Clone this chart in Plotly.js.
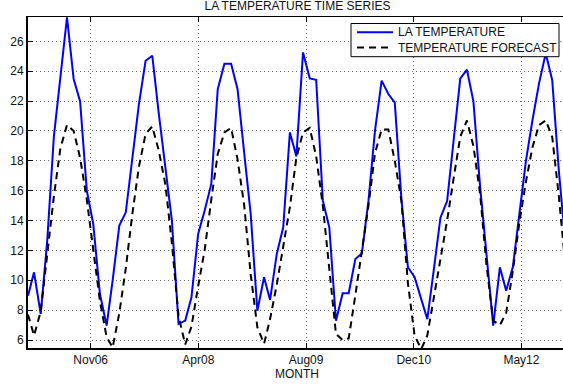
<!DOCTYPE html>
<html>
<head>
<meta charset="utf-8">
<script src="https://cdn.plot.ly/plotly-3.0.1.min.js"></script>
<style>
html,body{margin:0;padding:0;overflow:hidden;background:#fff;width:563px;height:387px;}
#chart{width:566px;height:387px;}
</style>
</head>
<body>
<div id="chart"></div>
<script>
// Monthly observation dates
const months = [
 '2006-02-01','2006-03-01','2006-04-01','2006-05-01','2006-06-01','2006-07-01','2006-08-01','2006-09-01','2006-10-01','2006-11-01','2006-12-01',
 '2007-01-01','2007-02-01','2007-03-01','2007-04-01','2007-05-01','2007-06-01','2007-07-01','2007-08-01','2007-09-01','2007-10-01','2007-11-01','2007-12-01',
 '2008-01-01','2008-02-01','2008-03-01','2008-04-01','2008-05-01','2008-06-01','2008-07-01','2008-08-01','2008-09-01','2008-10-01','2008-11-01','2008-12-01',
 '2009-01-01','2009-02-01','2009-03-01','2009-04-01','2009-05-01','2009-06-01','2009-07-01','2009-08-01','2009-09-01','2009-10-01','2009-11-01','2009-12-01',
 '2010-01-01','2010-02-01','2010-03-01','2010-04-01','2010-05-01','2010-06-01','2010-07-01','2010-08-01','2010-09-01','2010-10-01','2010-11-01','2010-12-01',
 '2011-01-01','2011-02-01','2011-03-01','2011-04-01','2011-05-01','2011-06-01','2011-07-01','2011-08-01','2011-09-01','2011-10-01','2011-11-01','2011-12-01',
 '2012-01-01','2012-02-01','2012-03-01','2012-04-01','2012-05-01','2012-06-01','2012-07-01','2012-08-01','2012-09-01','2012-10-01','2012-11-01','2012-12-01'
];

// LA temperature (observed)
const laTemperature = [
 8.97,10.53,7.74,12.6,19.6,23.5,27.6,23.48,21.98,16.0,13.77,
 9.08,6.96,10.0,13.66,14.55,18.2,21.8,24.7,25.04,21.2,17.5,14.0,
 7.07,7.3,8.86,13.1,14.66,16.45,22.8,24.5,24.5,22.8,18.5,14.44,
 7.96,10.2,8.68,11.76,13.55,19.9,18.3,25.26,23.52,23.43,15.33,13.54,
 7.29,9.13,9.13,11.42,11.8,15.33,20.0,23.37,22.47,21.9,15.4,10.87,
 10.2,8.8,7.4,10.8,14.19,15.3,19.3,23.5,24.1,22.0,16.3,11.8,
 6.96,10.87,9.3,10.87,14.5,18.0,20.7,23.2,25.2,23.4,17.3,12.5
];

// Temperature forecast
const temperatureForecast = [
 7.7,6.3,7.9,11.8,15.6,18.8,20.4,20.0,18.2,15.4,12.0,
 8.6,6.2,5.5,7.8,10.8,14.5,17.6,19.8,20.3,18.7,16.4,12.5,
 7.6,5.7,6.9,9.6,12.0,15.4,18.45,19.9,20.2,18.1,15.0,10.4,
 6.85,5.75,7.4,9.7,12.2,14.9,18.2,19.9,20.2,18.3,15.0,10.8,
 6.4,6.0,6.1,9.0,12.0,15.0,18.5,20.1,20.1,18.0,15.3,9.8,
 6.3,5.4,6.3,8.8,11.5,14.0,16.8,19.6,20.7,19.0,15.8,11.0,
 7.3,7.0,7.8,10.6,13.8,16.6,18.9,20.4,20.7,19.6,15.6,11.0
];

// Series names (legend)
const seriesNames = ['LA TEMPERATURE', 'TEMPERATURE FORECAST'];

// Axis ticks (MATLAB datetick positions)
const xTickDates = ['2006-11-19','2008-04-02','2009-08-15','2010-12-28','2012-05-11'];
const xTickLabels = ['Nov06','Apr08','Aug09','Dec10','May12'];
const yTicks = [6,8,10,12,14,16,18,20,22,24,26];

const FONT = 'Liberation Sans, Arial, Helvetica, sans-serif';
const FS = 12;
const TXT = '#111';
const xRange = ['2006-02-01','2012-12-04'];
const yRange = [5.464, 27.63];

const styles = [
 {color:'#0000ff', width:2},
 {color:'#000000', width:2, dash:'7px,5px'}
];

const traces = [
 {x: months, y: laTemperature, type:'scatter', mode:'lines', name:seriesNames[0], line:styles[0], showlegend:false},
 {x: months, y: temperatureForecast, type:'scatter', mode:'lines', name:seriesNames[1], line:styles[1], showlegend:false}
];

// invisible helper trace to activate the top axis (ticks only)
traces.push({x:[xRange[0]], y:[yRange[0]-10], xaxis:'x2', yaxis:'y', type:'scatter', mode:'markers',
  showlegend:false, hoverinfo:'skip', marker:{opacity:0}});

// Legend box drawn in paper coordinates (MATLAB-style compact legend)
const plotL = 28, plotW = 538, plotT = 17, plotH = 331;
const px = v => (v - plotL) / plotW;
const py = v => (plotT + plotH - v) / plotH;
const legBox = {x0:351, x1:559, y0:23.5, y1:56.7};
const legRows = [32.3, 47.6];
const shapes = [
 {type:'rect', xref:'paper', yref:'paper', x0:px(legBox.x0), x1:px(legBox.x1), y0:py(legBox.y1), y1:py(legBox.y0),
  line:{color:'#000', width:1}, fillcolor:'#fff', layer:'above'}
];
const annotations = [];
seriesNames.forEach((name, i) => {
  shapes.push({type:'line', xref:'paper', yref:'paper', x0:px(357), x1:px(393), y0:py(legRows[i]), y1:py(legRows[i]),
    line:styles[i], layer:'above'});
  annotations.push({xref:'paper', yref:'paper', x:px(395.5), y:py(legRows[i]), xanchor:'left', yanchor:'middle',
    text:name, showarrow:false, font:{family:FONT, size:FS, color:TXT}});
});

const layout = {
 width:566, height:387,
 margin:{l:28, r:0, t:17, b:39},
 paper_bgcolor:'#fff', plot_bgcolor:'#fff',
 font:{family:FONT, size:FS, color:TXT},
 title:{text:'LA TEMPERATURE TIME SERIES', font:{family:FONT, size:FS, color:TXT},
        x:297.5/566, xanchor:'center', xref:'container', y:1-5.5/387, yanchor:'middle', yref:'container'},
 showlegend:false,
 shapes: shapes,
 annotations: annotations,
 xaxis:{type:'date', range:xRange, tickmode:'array', tickvals:xTickDates, ticktext:xTickLabels,
   ticks:'inside', ticklen:5, tickwidth:1, tickcolor:'#000',
   showline:true, linecolor:'#000', linewidth:2, mirror:false,
   showgrid:true, gridcolor:'#666', gridwidth:1, griddash:'1px,3px',
   zeroline:false, tickfont:{family:FONT, size:FS, color:TXT},
   title:{text:'MONTH', font:{family:FONT, size:FS, color:TXT}, standoff:1}},
 xaxis2:{type:'date', range:xRange, overlaying:'x', side:'top', tickmode:'array', tickvals:xTickDates,
   showticklabels:false, ticks:'inside', ticklen:5, tickwidth:1, tickcolor:'#000',
   showline:true, linecolor:'#000', linewidth:1.2, showgrid:false, zeroline:false},
 yaxis:{range:yRange, tickmode:'array', tickvals:yTicks,
   ticks:'inside', ticklen:5, tickwidth:1, tickcolor:'#000',
   showline:true, linecolor:'#000', linewidth:2, mirror:false,
   showgrid:true, gridcolor:'#666', gridwidth:1, griddash:'1px,3px',
   zeroline:false, tickfont:{family:FONT, size:FS, color:TXT}}
};

Plotly.newPlot('chart', traces, layout, {staticPlot:true, displayModeBar:false});
</script>
</body>
</html>
